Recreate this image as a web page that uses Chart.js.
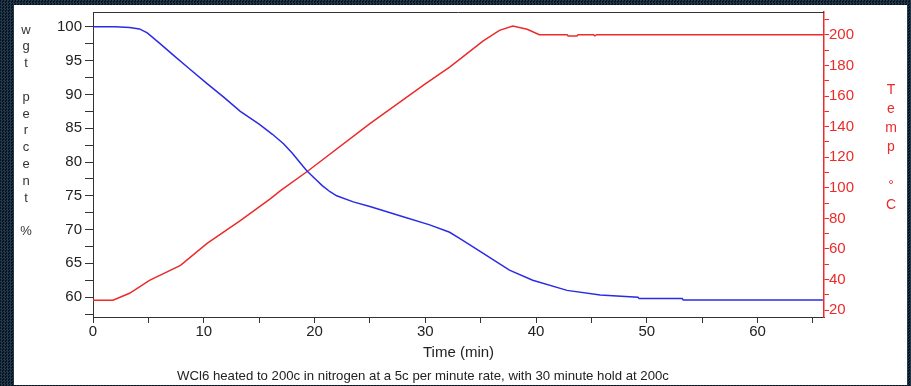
<!DOCTYPE html>
<html>
<head>
<meta charset="utf-8">
<script src="https://cdn.jsdelivr.net/npm/chart.js@4"></script>
<style>
  html, body { margin: 0; padding: 0; }
  body {
    width: 911px; height: 386px; overflow: hidden; position: relative;
    background: repeating-conic-gradient(#22384c 0 25%, #08121c 0 50%) 0 0 / 3px 3px;
  }
  #frame { position: absolute; left: 14px; top: 5px; width: 893px; height: 380px; background: #fff; }
  #wrap { position: absolute; left: 0; top: 0; width: 911px; height: 386px; }
</style>
</head>
<body>
<div id="frame"></div>
<div id="wrap"><canvas id="chart"></canvas></div>
<script>
// weight loss curve (min, wt %)
const WGT_TIME = [0, 2, 3.3, 4.2, 4.9, 6, 7.2, 8.7, 10.3, 11.8, 13.3, 15, 16.2, 17.2, 18.0, 18.7, 19.3, 20.0, 20.7, 21.4, 22, 23.5, 25, 28, 30.4, 32.2, 33.1, 35.2, 37.6, 39.7, 42.8, 45.8, 49.2, 49.3, 53.2, 53.3, 65.9]
const WGT_PCT  = [100, 100, 99.9, 99.7, 99.1, 97.6, 95.9, 93.8, 91.6, 89.6, 87.5, 85.6, 84.1, 82.7, 81.3, 79.9, 78.7, 77.6, 76.5, 75.6, 75.0, 74.1, 73.4, 71.9, 70.7, 69.6, 68.7, 66.5, 64.0, 62.5, 61.0, 60.3, 60.0, 59.8, 59.8, 59.56, 59.56]

// furnace temperature (min, deg C)
const TEMP_TIME = [0, 1.8, 3.3, 5.1, 7.9, 10.3, 13.3, 16, 16.9, 19.4, 25, 30, 32.2, 33.1, 35.2, 36.7, 37.9, 39.2, 40.3, 42.8, 42.9, 43.7, 43.8, 45.2, 45.3, 45.5, 65.9]
const TEMP_C    = [26.5, 26.5, 31, 39.5, 49.3, 63.6, 78.5, 92.8, 98, 111, 142, 168, 179, 184, 196, 203, 205.8, 203.7, 200.2, 200.2, 199.3, 199.3, 200.2, 200.2, 199.4, 200.2, 200.2]

const X_TICKS = [0, 5, 10, 15, 20, 25, 30, 35, 40, 45, 50, 55, 60, 65]
const WGT_TICKS = [57.5, 60, 62.5, 65, 67.5, 70, 72.5, 75, 77.5, 80, 82.5, 85, 87.5, 90, 92.5, 95, 97.5, 100]
const TEMP_TICKS = [20, 30, 40, 50, 60, 70, 80, 90, 100, 110, 120, 130, 140, 150, 160, 170, 180, 190, 200, 210]

const LEFT_TITLE = ['w', 'g', 't', '', 'p', 'e', 'r', 'c', 'e', 'n', 't', '', '%']
const RIGHT_TITLE = ['T', 'e', 'm', 'p', '', '°', 'C']
const X_TITLE = 'Time (min)'
const CAPTION = 'WCl6 heated to 200c in nitrogen at a 5c per minute rate, with 30 minute hold at 200c'

const BLUE = '#2b2be6'
const RED = '#ec2a2a'
const AXIS = '#333'
const FONT = 'Arial, "Liberation Sans", sans-serif'

const toPoints = (xs, ys) => xs.map((x, i) => ({ x, y: ys[i] }))
const setTicks = vals => scale => { scale.ticks = vals.map(v => ({ value: v })) }

const textPlugin = {
  id: 'texts',
  afterDraw(chart) {
    const { ctx, chartArea: a } = chart
    ctx.save()
    // top frame line
    ctx.strokeStyle = AXIS
    ctx.lineWidth = 1
    ctx.beginPath()
    ctx.moveTo(a.left, a.top + 0.5)
    ctx.lineTo(a.right, a.top + 0.5)
    ctx.stroke()

    ctx.textAlign = 'center'
    ctx.textBaseline = 'middle'
    ctx.font = '13px ' + FONT
    ctx.fillStyle = '#333'
    LEFT_TITLE.forEach((c, i) => ctx.fillText(c, 26, 30 + i * 16.8))
    ctx.font = '14px ' + FONT
    ctx.fillStyle = RED
    RIGHT_TITLE.forEach((c, i) => ctx.fillText(c, 891, 90 + i * 19.2))

    ctx.fillStyle = '#222'
    ctx.font = '15px ' + FONT
    ctx.fillText(X_TITLE, (a.left + a.right) / 2, 353)
    ctx.font = '13.2px ' + FONT
    ctx.fillText(CAPTION, 423, 376)
    ctx.restore()
  },
}

new Chart(document.getElementById('chart'), {
  type: 'line',
  data: {
    datasets: [
      {
        label: 'wgt percent',
        data: toPoints(WGT_TIME, WGT_PCT),
        yAxisID: 'y',
        borderColor: BLUE,
        borderWidth: 1.5,
        pointRadius: 0,
        tension: 0,
      },
      {
        label: 'Temp',
        data: toPoints(TEMP_TIME, TEMP_C),
        yAxisID: 'y2',
        borderColor: RED,
        borderWidth: 1.5,
        pointRadius: 0,
        tension: 0,
      },
    ],
  },
  plugins: [textPlugin],
  options: {
    responsive: true,
    maintainAspectRatio: false,
    animation: false,
    layout: { padding: { top: 10, left: 0, right: 0, bottom: 0 } },
    plugins: { legend: { display: false }, tooltip: { enabled: false } },
    scales: {
      x: {
        type: 'linear',
        min: 0,
        max: 66,
        afterBuildTicks: setTicks(X_TICKS),
        afterFit: s => { s.height = 69 },
        grid: { drawOnChartArea: false, tickLength: 6, color: AXIS },
        border: { color: AXIS, width: 1 },
        ticks: {
          color: '#222',
          padding: 0,
          maxRotation: 0,
          autoSkip: false,
          font: { family: FONT, size: 15 },
          callback: v => (v % 10 === 0 ? v : ''),
        },
      },
      y: {
        position: 'left',
        min: 57.06,
        max: 102.2,
        afterBuildTicks: setTicks(WGT_TICKS),
        afterFit: s => { s.width = 93 },
        grid: { drawOnChartArea: false, tickLength: 8, color: AXIS },
        border: { color: AXIS, width: 1 },
        ticks: {
          color: '#222',
          padding: 3,
          autoSkip: false,
          font: { family: FONT, size: 15 },
          callback: v => (v % 5 === 0 ? v : ''),
        },
      },
      y2: {
        position: 'right',
        min: 15.5,
        max: 215,
        afterBuildTicks: setTicks(TEMP_TICKS),
        afterFit: s => { s.width = 87 },
        grid: { drawOnChartArea: false, tickLength: 5, color: RED },
        border: { color: RED, width: 1.5 },
        ticks: {
          color: RED,
          padding: 0,
          autoSkip: false,
          font: { family: FONT, size: 15 },
          callback: v => (v % 20 === 0 && v <= 200 ? v : ''),
        },
      },
    },
  },
})
</script>
</body>
</html>
